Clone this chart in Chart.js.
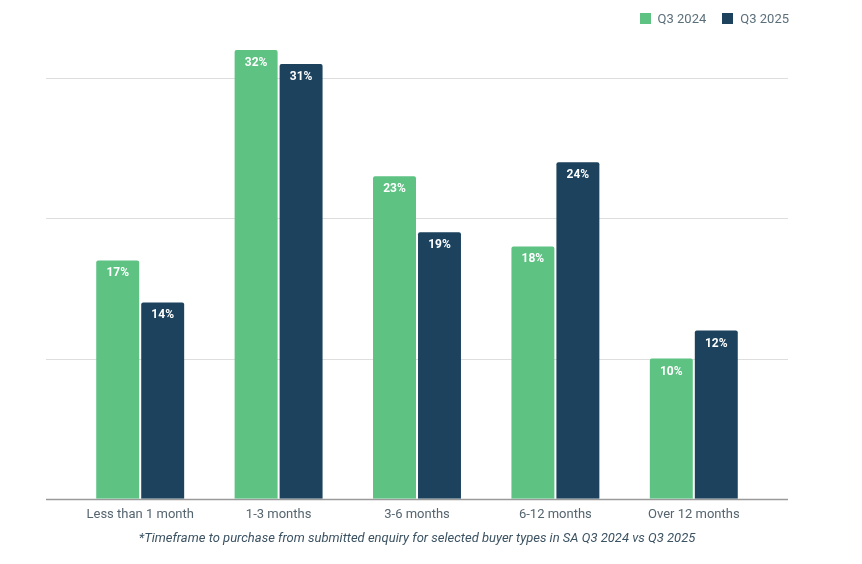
<!DOCTYPE html>
<html>
<head>
<meta charset="utf-8">
<script src="https://cdn.jsdelivr.net/npm/chart.js@4.4.1/dist/chart.umd.min.js"></script>
<style>
  html, body { margin: 0; padding: 0; background: #fff; }
  #wrap { position: relative; width: 862px; height: 564px; }
  #legend { position: absolute; top: 11px; right: 73px; font-family: Roboto, sans-serif; font-size: 13px; color: #5b6f7b; display: flex; gap: 16px; }
  #legend span { display: flex; align-items: center; }
  #legend i { display: inline-block; width: 11px; height: 11px; margin-right: 7px; }
</style>
</head>
<body>
<div id="wrap">
  <canvas id="chart" width="862" height="564"></canvas>
  <div id="legend"></div>
</div>
<script>
const categories = ['Less than 1 month', '1-3 months', '3-6 months', '6-12 months', 'Over 12 months'];
const seriesNames = ['Q3 2024', 'Q3 2025'];
const q3_2024 = [17, 32, 23, 18, 10];
const q3_2025 = [14, 31, 19, 24, 12];
const gridValues = [0, 10, 20, 30];
const footnote = '*Timeframe to purchase from submitted enquiry for selected buyer types in SA Q3 2024 vs Q3 2025';

const colors = ['#5dc282', '#1c425e'];

// html legend (top right)
const legend = document.getElementById('legend');
seriesNames.forEach((name, i) => {
  const s = document.createElement('span');
  s.innerHTML = '<i style="background:' + colors[i] + '"></i>' + name;
  legend.appendChild(s);
});

// gridlines run wider than the bar area
const gridPlugin = {
  id: 'wideGrid',
  beforeDatasetsDraw(chart) {
    const ctx = chart.ctx;
    const y = chart.scales.y;
    ctx.save();
    gridValues.forEach(v => {
      const py = Math.round(y.getPixelForValue(v)) + 0.5;
      ctx.strokeStyle = v === 0 ? '#9a9a9a' : '#dedede';
      ctx.lineWidth = v === 0 ? 1.5 : 1;
      ctx.beginPath();
      ctx.moveTo(46, py);
      ctx.lineTo(788, py);
      ctx.stroke();
    });
    ctx.restore();
  }
};

const labelPlugin = {
  id: 'barLabels',
  afterDatasetsDraw(chart) {
    const ctx = chart.ctx;
    ctx.save();
    ctx.font = 'bold 12px Roboto, sans-serif';
    ctx.fillStyle = '#ffffff';
    ctx.textAlign = 'center';
    ctx.textBaseline = 'middle';
    chart.data.datasets.forEach((ds, di) => {
      chart.getDatasetMeta(di).data.forEach((bar, i) => {
        ctx.fillText(ds.data[i] + '%', bar.x, bar.y + 13);
      });
    });
    ctx.restore();
  }
};

new Chart(document.getElementById('chart'), {
  type: 'bar',
  data: {
    labels: categories,
    datasets: [
      { label: seriesNames[0], data: q3_2024, backgroundColor: colors[0], borderRadius: { topLeft: 2, topRight: 2 }, borderSkipped: 'bottom' },
      { label: seriesNames[1], data: q3_2025, backgroundColor: colors[1], borderRadius: { topLeft: 2, topRight: 2 }, borderSkipped: 'bottom' }
    ]
  },
  options: {
    responsive: false,
    animation: false,
    devicePixelRatio: 1,
    layout: { padding: { left: 71, right: 99, top: 8, bottom: 17 } },
    datasets: { bar: { categoryPercentage: 0.65, barPercentage: 0.955 } },
    scales: {
      x: {
        grid: { display: false },
        border: { display: false },
        ticks: { color: '#55656f', font: { family: 'Roboto', size: 13 }, padding: 0, maxRotation: 0 }
      },
      y: {
        display: false,
        min: 0,
        max: 35
      }
    },
    plugins: {
      legend: { display: false },
      tooltip: { enabled: false },
      title: {
        display: true,
        position: 'bottom',
        text: footnote,
        color: '#3b5262',
        font: { family: 'Roboto', size: 13, style: 'italic', weight: 'normal' },
        padding: { top: 9, bottom: 0 }
      }
    }
  },
  plugins: [gridPlugin, labelPlugin]
});
</script>
</body>
</html>
